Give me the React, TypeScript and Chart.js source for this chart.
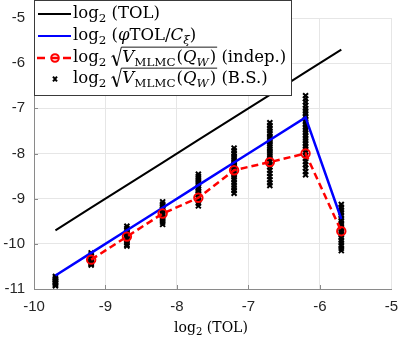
import React, { useEffect, useRef } from 'react';
import { Chart, registerables } from 'chart.js';
Chart.register(...registerables);

// ---- data ----
const tolX = [-9.7, -9.2, -8.7, -8.2, -7.7, -7.2, -6.7, -6.2, -5.7];
const tolY = [-9.7, -9.2, -8.7, -8.2, -7.7, -7.2, -6.7, -6.2, -5.7];
const phiY = [-10.7, -10.2, -9.7, -9.2, -8.7, -8.2, -7.7, -7.2, -9.45];
const indepX = [-9.2, -8.7, -8.2, -7.7, -7.2, -6.7, -6.2, -5.7];
const indepY = [-10.35, -9.84, -9.33, -8.98, -8.37, -8.19, -8.0, -9.72];

const bsX = [-9.7, -9.2, -8.7, -8.2, -7.7, -7.2, -6.7, -6.2, -5.7];
const bs97 = [-10.72, -10.75, -10.78, -10.8, -10.83, -10.86, -10.88, -10.91, -10.93];
const bs92 = [-10.2, -10.24, -10.27, -10.31, -10.33, -10.36, -10.39, -10.42, -10.44, -10.47];
const bs87 = [-9.61, -9.66, -9.7, -9.74, -9.77, -9.8, -9.83, -9.86, -9.9, -9.94, -9.98, -10.02, -10.05];
const bs82 = [-9.07, -9.12, -9.16, -9.2, -9.24, -9.27, -9.3, -9.34, -9.38, -9.42, -9.47, -9.52, -9.57];
const bs77 = [-8.46, -8.51, -8.56, -8.61, -8.66, -8.71, -8.75, -8.79, -8.83, -8.87, -8.91, -8.95, -8.99, -9.04, -9.1, -9.16];
const bs72 = [-7.88, -7.94, -8.0, -8.06, -8.11, -8.16, -8.21, -8.26, -8.3, -8.34, -8.38, -8.42, -8.47, -8.52, -8.58, -8.64, -8.7, -8.76, -8.82, -8.88];
const bs67 = [-7.32, -7.38, -7.44, -7.5, -7.56, -7.62, -7.67, -7.72, -7.77, -7.82, -7.87, -7.92, -7.97, -8.02, -8.07, -8.12, -8.18, -8.24, -8.3, -8.37, -8.44, -8.51, -8.58, -8.65, -8.71];
const bs62 = [-6.72, -6.79, -6.86, -6.93, -7.0, -7.06, -7.12, -7.18, -7.24, -7.3, -7.36, -7.42, -7.48, -7.54, -7.6, -7.66, -7.72, -7.78, -7.84, -7.9, -7.97, -8.04, -8.11, -8.18, -8.25, -8.32, -8.4, -8.47];
const bs57 = [-9.13, -9.19, -9.25, -9.31, -9.37, -9.43, -9.49, -9.55, -9.6, -9.65, -9.7, -9.75, -9.8, -9.86, -9.92, -9.98, -10.04, -10.1, -10.15];
const bsY = [bs97, bs92, bs87, bs82, bs77, bs72, bs67, bs62, bs57];

const xTicks = [-10, -9, -8, -7, -6, -5];
const yTicks = [-11, -10, -9, -8, -7, -6, -5];

const SERIF = '"DejaVu Serif", "Liberation Serif", serif';
const SANS = '"Liberation Sans", Arial, sans-serif';
const AXIS = '#8a8a8a';
const GRID = '#e6e6e6';

type Seg = { t: string; sub?: boolean; it?: boolean; sqrtStart?: boolean; sqrtEnd?: boolean; gap?: number };

function segFont(s: Seg, size: number) {
  const sz = s.sub ? size * 0.72 : size;
  return `${s.it ? 'italic ' : ''}${sz}px ${SERIF}`;
}

function drawSegs(ctx: CanvasRenderingContext2D, segs: Seg[], x: number, y: number, size: number) {
  let sqrtX = 0;
  ctx.textBaseline = 'alphabetic';
  ctx.textAlign = 'left';
  for (const s of segs) {
    if (s.gap) {
      x += s.gap;
      continue;
    }
    if (s.sqrtStart) {
      sqrtX = x;
      x += 11;
      continue;
    }
    if (s.sqrtEnd) {
      const top = y - size * 0.9;
      ctx.save();
      ctx.strokeStyle = '#000';
      ctx.lineWidth = 1;
      ctx.beginPath();
      ctx.moveTo(sqrtX, y - size * 0.3);
      ctx.lineTo(sqrtX + 2, y - size * 0.4);
      ctx.stroke();
      ctx.lineWidth = 1.7;
      ctx.beginPath();
      ctx.moveTo(sqrtX + 2, y - size * 0.4);
      ctx.lineTo(sqrtX + 5.5, y + size * 0.22);
      ctx.stroke();
      ctx.lineWidth = 0.9;
      ctx.beginPath();
      ctx.moveTo(sqrtX + 5.5, y + size * 0.22);
      ctx.lineTo(sqrtX + 10, top);
      ctx.lineTo(x + 1, top);
      ctx.stroke();
      ctx.restore();
      continue;
    }
    ctx.font = segFont(s, size);
    const dy = s.sub ? size * 0.24 : 0;
    ctx.fillText(s.t, x, y + dy);
    x += ctx.measureText(s.t).width;
  }
  return x;
}

function segsWidth(ctx: CanvasRenderingContext2D, segs: Seg[], size: number) {
  let w = 0;
  for (const s of segs) {
    if (s.gap) { w += s.gap; continue; }
    if (s.sqrtStart) { w += 11; continue; }
    if (s.sqrtEnd) continue;
    ctx.font = segFont(s, size);
    w += ctx.measureText(s.t).width;
  }
  return w;
}

const sqrtPart: Seg[] = [
  { t: '', sqrtStart: true },
  { t: 'V', it: true },
  { t: 'MLMC', sub: true },
  { t: '', gap: 1 },
  { t: '(' },
  { t: 'Q', it: true },
  { t: 'W', sub: true, it: true },
  { t: '', gap: 1 },
  { t: ')' },
  { t: '', sqrtEnd: true },
];

const legendRows: Seg[][] = [
  [{ t: 'log' }, { t: '2', sub: true }, { t: ' (TOL)' }],
  [{ t: 'log' }, { t: '2', sub: true }, { t: ' (' }, { t: 'φ', it: true }, { t: 'TOL/' }, { t: 'C', it: true }, { t: 'ξ', sub: true, it: true }, { t: ')' }],
  [{ t: 'log' }, { t: '2', sub: true }, { t: '', gap: 5 }, ...sqrtPart, { t: ' (indep.)' }],
  [{ t: 'log' }, { t: '2', sub: true }, { t: '', gap: 5 }, ...sqrtPart, { t: ' (B.S.)' }],
];
const titleSegs: Seg[] = [{ t: 'log' }, { t: '2', sub: true }, { t: ' (TOL)' }];

const decorPlugin = {
  id: 'decor',
  afterDraw(chart: any) {
    const ctx: CanvasRenderingContext2D = chart.ctx;
    const xs = chart.scales.x;
    const ys = chart.scales.y;
    const area = chart.chartArea;
    ctx.save();
    // inward tick marks
    ctx.strokeStyle = AXIS;
    ctx.lineWidth = 1;
    for (const v of xTicks.slice(1, -1)) {
      const px = Math.round(xs.getPixelForValue(v)) + 0.5;
      ctx.beginPath();
      ctx.moveTo(px, area.bottom);
      ctx.lineTo(px, area.bottom - 4);
      ctx.stroke();
    }
    for (const v of yTicks.slice(1, -1)) {
      const py = Math.round(ys.getPixelForValue(v)) + 0.5;
      ctx.beginPath();
      ctx.moveTo(area.left, py);
      ctx.lineTo(area.left + 4, py);
      ctx.stroke();
    }
    // x axis title
    ctx.fillStyle = '#000';
    const tw = segsWidth(ctx, titleSegs, 14);
    drawSegs(ctx, titleSegs, 211 - tw / 2, 332, 14);

    // legend box
    const bx = 34.5, by = 0.5, bw = 257, bh = 95;
    ctx.fillStyle = '#fff';
    ctx.fillRect(bx, by, bw, bh);
    ctx.strokeStyle = '#3a3a3a';
    ctx.lineWidth = 1;
    ctx.strokeRect(bx, by, bw, bh);

    const rowY = [14, 36, 58, 79];
    ctx.lineWidth = 2;
    ctx.strokeStyle = '#000';
    ctx.beginPath();
    ctx.moveTo(38, rowY[0]);
    ctx.lineTo(71, rowY[0]);
    ctx.stroke();
    ctx.strokeStyle = '#0000ff';
    ctx.beginPath();
    ctx.moveTo(38, rowY[1]);
    ctx.lineTo(71, rowY[1]);
    ctx.stroke();
    ctx.strokeStyle = '#ff0000';
    ctx.lineWidth = 2.5;
    ctx.beginPath();
    ctx.moveTo(37, rowY[2]);
    ctx.lineTo(45, rowY[2]);
    ctx.moveTo(52, rowY[2]);
    ctx.lineTo(58, rowY[2]);
    ctx.moveTo(63, rowY[2]);
    ctx.lineTo(71, rowY[2]);
    ctx.stroke();
    ctx.lineWidth = 2;
    ctx.beginPath();
    ctx.arc(55, rowY[2], 3.8, 0, Math.PI * 2);
    ctx.stroke();
    ctx.strokeStyle = '#000';
    ctx.lineWidth = 2;
    ctx.beginPath();
    ctx.moveTo(53, rowY[3] - 2.3);
    ctx.lineTo(57, rowY[3] + 2.3);
    ctx.moveTo(57, rowY[3] - 2.3);
    ctx.lineTo(53, rowY[3] + 2.3);
    ctx.stroke();

    ctx.fillStyle = '#000';
    legendRows.forEach((segs, i) => {
      drawSegs(ctx, segs, 73, rowY[i] + 4, 16.5);
    });
    ctx.restore();
  },
};

export default function App() {
  const ref = useRef<HTMLCanvasElement>(null);
  useEffect(() => {
    const bsData: { x: number; y: number }[] = [];
    bsX.forEach((x, i) => bsY[i].forEach((y) => bsData.push({ x, y })));
    const chart = new Chart(ref.current!, {
      type: 'scatter',
      data: {
        datasets: [
          {
            label: 'indep',
            data: indepX.map((x, i) => ({ x, y: indepY[i] })),
            showLine: true,
            borderColor: '#ff0000',
            borderWidth: 2.5,
            borderDash: [7, 4],
            pointRadius: 4.2,
            pointBorderWidth: 2,
            pointBorderColor: '#ff0000',
            pointBackgroundColor: 'rgba(0,0,0,0)',
          },
          {
            label: 'phi',
            data: tolX.map((x, i) => ({ x, y: phiY[i] })),
            showLine: true,
            borderColor: '#0000ff',
            borderWidth: 2.5,
            pointRadius: 0,
          },
          {
            label: 'tol',
            data: tolX.map((x, i) => ({ x, y: tolY[i] })),
            showLine: true,
            borderColor: '#000000',
            borderWidth: 2,
            pointRadius: 0,
          },
          {
            label: 'bs',
            data: bsData,
            showLine: false,
            pointStyle: 'crossRot',
            pointRadius: 3.5,
            pointBorderWidth: 2,
            pointBorderColor: '#000',
            borderColor: '#000',
          },
        ],
      },
      options: {
        responsive: false,
        animation: false,
        events: [],
        layout: { padding: { top: 11.5, right: 6, left: 0, bottom: 0 } },
        plugins: { legend: { display: false }, tooltip: { enabled: false } },
        scales: {
          x: {
            type: 'linear',
            min: -10,
            max: -5,
            afterFit: (s: any) => { s.height = 50; },
            afterBuildTicks: (s: any) => { s.ticks = xTicks.map((v) => ({ value: v })); },
            ticks: {
              padding: 9,
              color: '#262626',
              font: { family: SANS, size: 15 },
              callback: (v: any) => String(v),
              maxRotation: 0,
            },
            grid: { color: GRID, drawTicks: false, lineWidth: 1 },
            border: { color: AXIS, width: 1 },
          },
          y: {
            type: 'linear',
            min: -11,
            max: -5,
            afterFit: (s: any) => { s.width = 34; },
            afterBuildTicks: (s: any) => { s.ticks = yTicks.map((v) => ({ value: v })); },
            ticks: {
              padding: 9,
              color: '#262626',
              font: { family: SANS, size: 15 },
              callback: (v: any) => String(v),
            },
            grid: { color: GRID, drawTicks: false, lineWidth: 1 },
            border: { color: AXIS, width: 1 },
          },
        },
      },
      plugins: [decorPlugin],
    });
    return () => chart.destroy();
  }, []);
  return (
    <div style={{ position: 'absolute', left: 0, top: 0, width: 407, height: 339, background: '#fff' }}>
      <canvas ref={ref} width={407} height={339} style={{ width: 407, height: 339, display: 'block' }} />
    </div>
  );
}
